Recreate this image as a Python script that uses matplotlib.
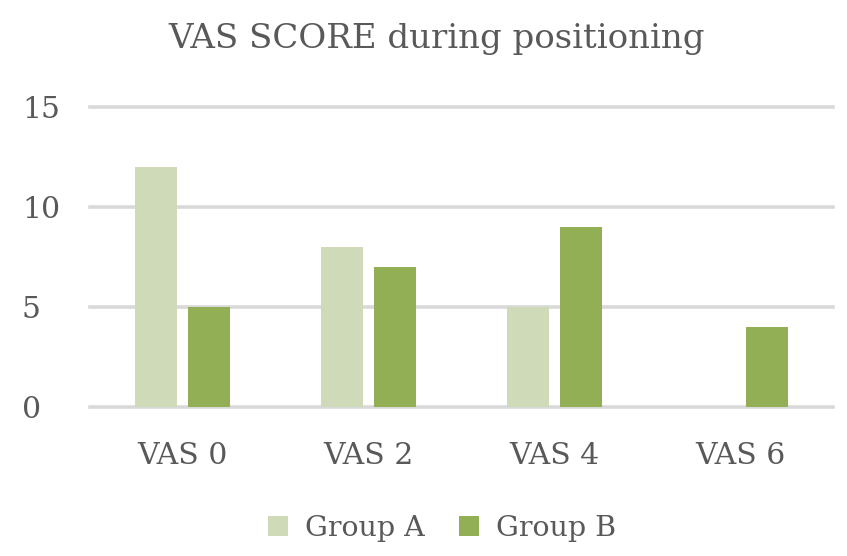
import matplotlib
matplotlib.use("Agg")
import matplotlib.pyplot as plt
import numpy as np

categories = ["VAS 0", "VAS 2", "VAS 4", "VAS 6"]
group_a = [12, 8, 5, 0]
group_b = [5, 7, 9, 4]
series_names = ["Group A", "Group B"]
yticks = [0, 5, 10, 15]

col_a = "#CFDBB8"
col_b = "#93AF56"
txt = "#595959"
grid = "#D9D9D9"

plt.rcParams['font.family'] = ['DejaVu Serif']

fig = plt.figure(figsize=(8.47, 5.56), dpi=100)
ax = fig.add_axes([90/847, 1-407/556, (833-90)/847, (407-107)/556])

x = np.arange(len(categories))
w = 0.226
gap = 0.06
ax.bar(x - (w+gap)/2, group_a, w, color=col_a, label=series_names[0], zorder=3)
ax.bar(x + (w+gap)/2, group_b, w, color=col_b, label=series_names[1], zorder=3)

ax.set_xlim(-0.5, len(categories)-0.5)
ax.set_ylim(0, 15)
for t in yticks:
    ax.axhline(t, color=grid, lw=2.6, zorder=1, clip_on=False)
ax.set_yticks(yticks)
ax.set_xticks(x)
ax.set_xticklabels(categories)
for s in ax.spines.values():
    s.set_visible(False)
ax.tick_params(axis='both', length=0, labelsize=21.5, colors=txt)
ax.tick_params(axis='y', pad=49)
ax.tick_params(axis='x', pad=25)
for lab in ax.get_yticklabels():
    lab.set_horizontalalignment('left')

fig.suptitle("VAS SCORE during positioning", x=0.515, y=0.958, fontsize=24.5, color=txt)
leg = fig.legend(loc='center', bbox_to_anchor=(0.522, 0.05), ncol=2, frameon=False,
                 fontsize=20.5, labelcolor=txt, handlelength=0.7, handleheight=0.7,
                 columnspacing=1.2, handletextpad=0.6)
fig.savefig("out.png", dpi=100)
